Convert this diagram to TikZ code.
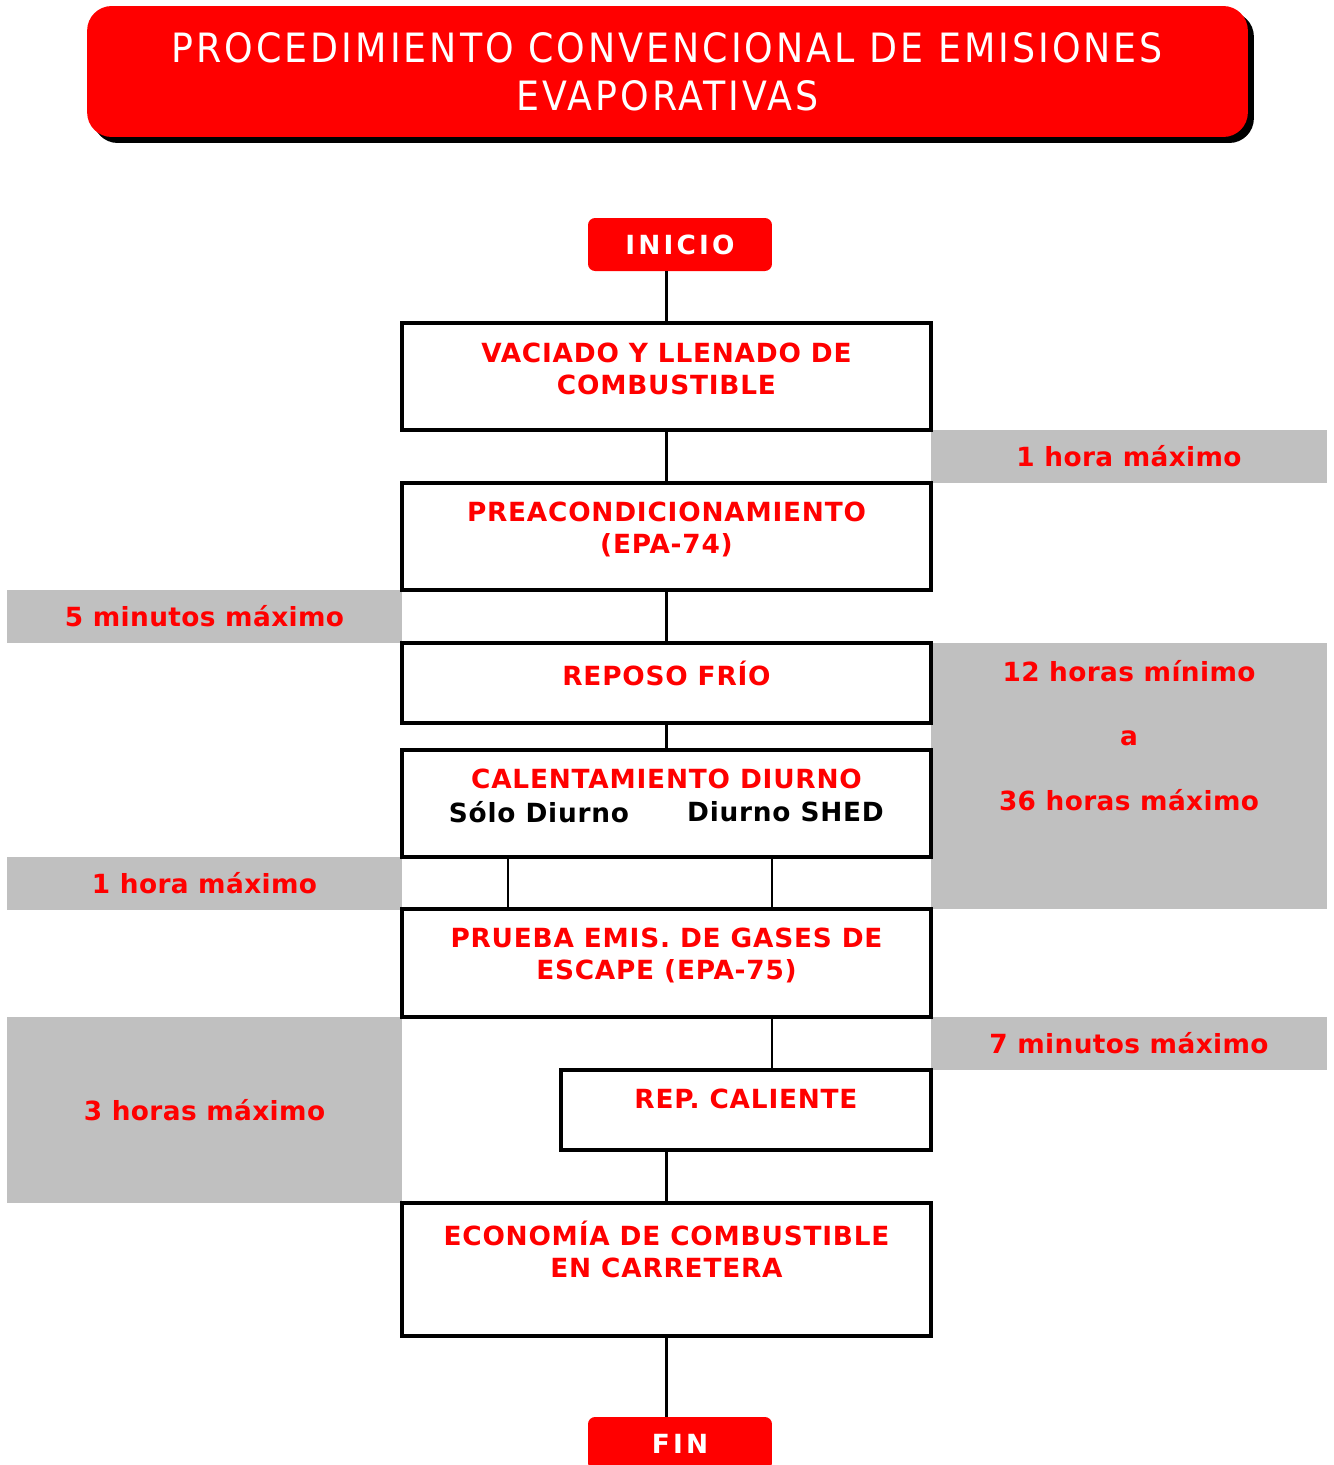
\documentclass[tikz,border=0pt]{standalone}
\usepackage{fontspec}
\setmainfont{DejaVu Sans}
\newfontfamily\condfont{DejaVu Sans Condensed}
\usepackage{xcolor}
\usepackage{tikz}
\usetikzlibrary{arrows,calc,positioning,shapes,shadows}
\definecolor{rojo}{RGB}{255,0,0}
\definecolor{gris}{RGB}{192,192,192}

\begin{document}
\begin{tikzpicture}[x=0.02cm,y=-0.02cm]
\tikzset{stepbox/.style = {shape=rectangle,draw,line width=2pt,minimum width=10.58cm}}
\tikzset{steptxt/.style = {align=center,text=rojo,font=\fontsize{15}{18.2}\selectfont\bfseries\addfontfeature{LetterSpace=3},inner sep=0pt}}
\tikzset{greybox/.style = {shape=rectangle,fill=gris,text=rojo,font=\fontsize{15}{18.2}\selectfont\bfseries\addfontfeature{LetterSpace=1.5},inner sep=0pt,minimum height=1.06cm}}
\tikzset{endbox/.style = {shape=rectangle,rounded corners=4pt,fill=rojo,text=white,minimum width=3.68cm,minimum height=1.06cm,font=\fontsize{15}{18}\selectfont\bfseries\addfontfeature{LetterSpace=12}}}
\tikzset{edge/.style = {line width=1.7pt}}
\useasboundingbox (0,0) rectangle (1334,1465);
% titulo
\node[shape=rectangle,rounded corners=14pt,fill=rojo,text=white,minimum width=23.22cm,minimum height=2.62cm,align=center,
  font=\condfont\fontsize{23}{27.5}\selectfont\addfontfeature{LetterSpace=7.5},
  drop shadow={shadow xshift=0.12cm,shadow yshift=-0.12cm,fill=black,opacity=1}] (titulo) at (667.5,71.5)
  {PROCEDIMIENTO CONVENCIONAL DE EMISIONES\\EVAPORATIVAS};
% franjas de tiempo
\node[greybox,minimum width=7.92cm] (t1) at (1129,456.5) {1 hora máximo};
\node[greybox,minimum width=7.9cm] (t2) at (204.5,616.5) {5 minutos máximo};
\node[greybox,minimum width=7.92cm,minimum height=5.32cm] (t3) at (1129,776) {};
\node[steptxt,font=\fontsize{15}{36.6}\selectfont\bfseries\addfontfeature{LetterSpace=1.5}] (t3txt) at (1129,735.5) {12 horas mínimo\\a\\36 horas máximo};
\node[greybox,minimum width=7.9cm] (t4) at (204.5,883) {1 hora máximo};
\node[greybox,minimum width=7.92cm] (t5) at (1129,1043.5) {7 minutos máximo};
\node[greybox,minimum width=7.9cm,minimum height=3.72cm] (t6) at (204.5,1110) {3 horas máximo};
% inicio y fin
\node[endbox] (inicio) at (680,244.5) {INICIO};
\node[endbox] (fin) at (680,1443.5) {FIN};
% pasos
\node[stepbox,minimum height=2.14cm] (vaciado) at (666.5,376.5) {};
\node[steptxt] (vaciadotxt) at (666.5,369) {VACIADO Y LLENADO DE\\COMBUSTIBLE};
\node[stepbox,minimum height=2.14cm] (precond) at (666.5,536.5) {};
\node[steptxt] (precondtxt) at (666.5,529) {PREACONDICIONAMIENTO\\(EPA-74)};
\node[stepbox,minimum height=1.6cm] (reposo) at (666.5,683) {};
\node[steptxt] (repostxt) at (666.5,673) {REPOSO FRÍO};
\node[stepbox,minimum height=2.14cm] (calent) at (666.5,803.5) {};
\node[steptxt] (calenttxt) at (666.5,779) {CALENTAMIENTO DIURNO};
\node[steptxt,text=black] (solo) at (539,812) {Sólo Diurno};
\node[steptxt,text=black] (shed) at (785.5,812) {Diurno SHED};
\node[stepbox,minimum height=2.16cm] (prueba) at (666.5,963) {};
\node[steptxt] (pruebatxt) at (666.5,955.5) {PRUEBA EMIS. DE GASES DE\\ESCAPE (EPA-75)};
\node[stepbox,minimum width=7.4cm,minimum height=1.6cm] (rep) at (746,1110) {};
\node[steptxt] (reptxt) at (746,1099) {REP. CALIENTE};
\node[stepbox,minimum height=2.66cm] (econ) at (666.5,1269.5) {};
\node[steptxt] (econtxt) at (666.5,1249) {ECONOMÍA DE COMBUSTIBLE\\EN CARRETERA};
\coordinate (c1) at (508,857);
\coordinate (c2) at (772,857);
% conexiones
\draw[edge] (vaciado.north |- inicio.south) to (vaciado.north);
\draw[edge] (vaciado) to (precond);
\draw[edge] (precond) to (reposo);
\draw[edge] (reposo) to (calent);
\draw[edge] (c1) to (c1 |- prueba.north);
\draw[edge] (c2) to (c2 |- prueba.north);
\draw[edge] (c2 |- prueba.south) to (c2 |- rep.north);
\draw[edge] (econ.north |- rep.south) to (econ.north);
\draw[edge] (econ.south) to (econ.south |- fin.north);
\end{tikzpicture}
\end{document}
